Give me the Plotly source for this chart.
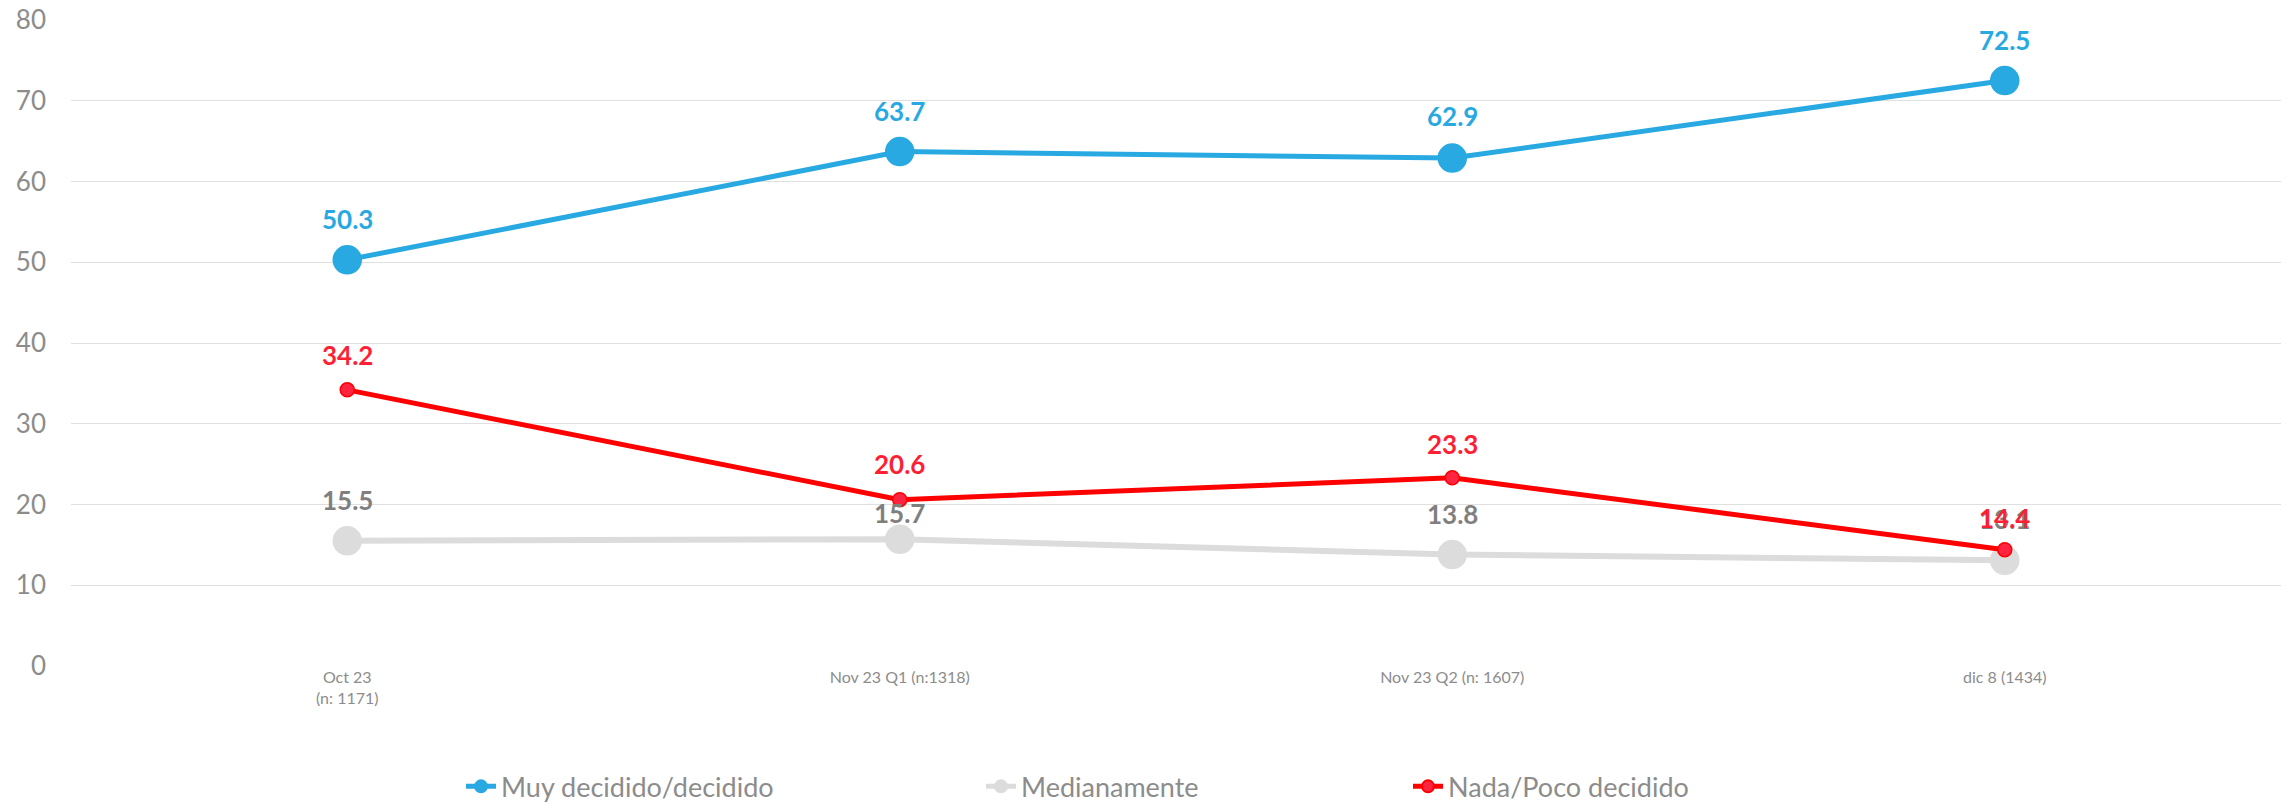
import plotly.graph_objects as go

categories = ["Oct 23<br>(n: 1171)", "Nov 23 Q1 (n:1318)", "Nov 23 Q2 (n: 1607)", "dic 8 (1434)"]
muy_decidido = [50.3, 63.7, 62.9, 72.5]
medianamente = [15.5, 15.7, 13.8, 13.1]
nada_poco = [34.2, 20.6, 23.3, 14.4]
y_ticks = [0, 10, 20, 30, 40, 50, 60, 70, 80]

FONT = "Lato, 'Open Sans', sans-serif"

PLOT_L, PLOT_W = 71, 2210

series = [
    # name, values, line color, line width, marker color, marker size, marker line color, label color, label pixel offsets, legend px
    ("Muy decidido/decidido", muy_decidido, "#29A9E1", 5, "#29A9E1", 28, "#29A9E1", "#29A9E1", [41, 41, 42, 41], 461),
    ("Medianamente", medianamente, "#DCDCDC", 6, "#DCDCDC", 28, "#DCDCDC", "#7F7F7F", [41, 26, 41, 41], 981),
    ("Nada/Poco decidido", nada_poco, "#FF0000", 5, "#FF2440", 14, "#FF0000", "#FF1F35", [35, 36, 34, 32], 1408),
]

fig = go.Figure()
annotations = []
legends = {}
for i, (name, vals, lc, lw, mc, ms, mlc, tc, offs, lx) in enumerate(series):
    lname = "legend" if i == 0 else f"legend{i + 1}"
    fig.add_trace(go.Scatter(
        x=categories, y=vals, name=name, mode="lines+markers",
        line=dict(color=lc, width=lw),
        marker=dict(color=mc, size=ms, line=dict(color=mlc, width=1.5)),
        hoverinfo="x+y", legend=lname,
    ))
    legends[lname] = dict(
        orientation="h", x=(lx - PLOT_L) / PLOT_W, xanchor="left",
        y=-0.187, yanchor="middle",
        font=dict(family=FONT, size=27, color="#8C8C8C"),
        itemsizing="constant", bgcolor="rgba(0,0,0,0)",
    )
    for c, v, o in zip(categories, vals, offs):
        annotations.append(dict(
            x=c, y=v, xref="x", yref="y", text=f"<b>{v:.1f}</b>", showarrow=False,
            yshift=o, font=dict(family=FONT, size=26, color=tc),
            xanchor="center", yanchor="middle",
        ))

fig.update_layout(
    width=2287, height=803, autosize=False,
    margin=dict(l=71, r=6, t=20, b=137, autoexpand=False),
    paper_bgcolor="white", plot_bgcolor="white",
    font=dict(family=FONT, color="#8C8C8C"),
    annotations=annotations,
    showlegend=True,
    xaxis=dict(
        type="category", range=[-0.5, 3.5], showgrid=False, zeroline=False,
        showline=False, ticks="", tickfont=dict(family=FONT, size=16, color="#8C8C8C"),
        fixedrange=True, automargin=False,
    ),
    yaxis=dict(
        range=[0, 80], tickvals=y_ticks, showgrid=True, gridcolor="#E0E0E0", gridwidth=1.3,
        zeroline=False, showline=False, ticks="", ticklabelstandoff=24,
        ticklabeloverflow="allow",
        tickfont=dict(family=FONT, size=26, color="#8C8C8C"), fixedrange=True, automargin=False,
    ),
    **legends,
)

# remove the default 8px page margin so the figure fills the window exactly; hide the modebar
fig.write_html(
    "out.html",
    config={"displayModeBar": False},
    post_script="document.body.style.margin='0px';",
)
